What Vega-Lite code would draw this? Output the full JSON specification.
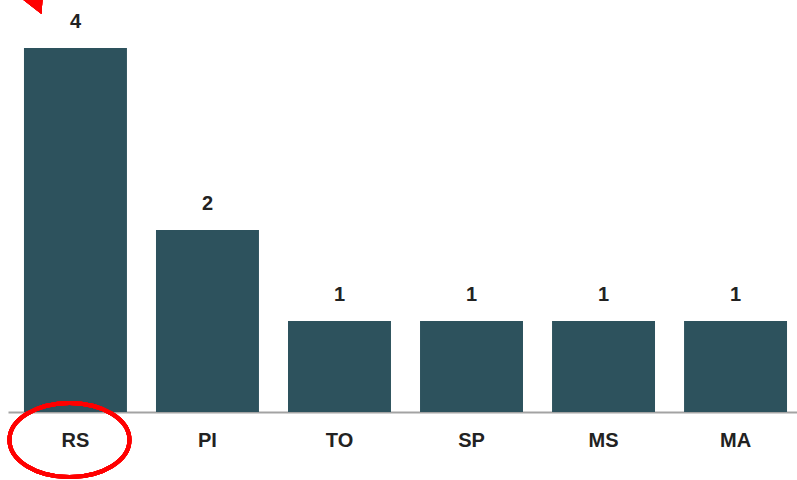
{
  "$schema": "https://vega.github.io/schema/vega-lite/v6.json",
  "width": 795,
  "height": 412,
  "autosize": {"type": "none"},
  "padding": {"left": 8, "top": 0, "right": 0, "bottom": 68},
  "background": "white",
  "config": {"view": {"stroke": null}},
  "data": {"values": [
    {"estado": "RS", "valor": 4},
    {"estado": "PI", "valor": 2},
    {"estado": "TO", "valor": 1},
    {"estado": "SP", "valor": 1},
    {"estado": "MS", "valor": 1},
    {"estado": "MA", "valor": 1}
  ]},
  "encoding": {
    "x": {
      "field": "estado", "type": "nominal", "sort": null,
      "scale": {"paddingInner": 0.22, "paddingOuter": 0.121},
      "axis": {
        "title": null, "labelAngle": 0, "ticks": false, "grid": false,
        "domainColor": "#a3a3a3", "domainWidth": 2,
        "labelFont": "Liberation Sans", "labelFontWeight": "bold",
        "labelFontSize": 20, "labelColor": "#222222", "labelPadding": 18
      }
    },
    "y": {
      "field": "valor", "type": "quantitative",
      "scale": {"domain": [0, 4.527], "nice": false, "zero": true},
      "axis": null
    }
  },
  "layer": [
    {"mark": {"type": "bar", "color": "#2d525d"}},
    {
      "mark": {"type": "text", "font": "Liberation Sans", "fontWeight": "bold", "fontSize": 20, "color": "#222222", "baseline": "alphabetic", "dy": -20},
      "encoding": {"text": {"field": "valor", "type": "quantitative"}}
    },
    {
      "mark": {"type": "point", "shape": "M -1 0 A 1 0.617 0 1 0 1 0 A 1 0.617 0 1 0 -1 0 Z", "size": 14400, "filled": false, "stroke": "#ff0000", "strokeWidth": 4, "opacity": 1, "xOffset": -6, "yOffset": 28, "clip": false},
      "encoding": {"x": {"datum": "RS"}, "y": {"datum": 0}}
    },
    {
      "mark": {"type": "point", "shape": "M -1 -0.737 L 1 -0.737 L 0.895 0.737 Z", "size": 361, "filled": true, "color": "#ff0000", "opacity": 1, "strokeWidth": 0, "xOffset": -42.5, "yOffset": -41, "clip": false},
      "encoding": {"x": {"datum": "RS"}, "y": {"datum": 4}}
    }
  ]
}
